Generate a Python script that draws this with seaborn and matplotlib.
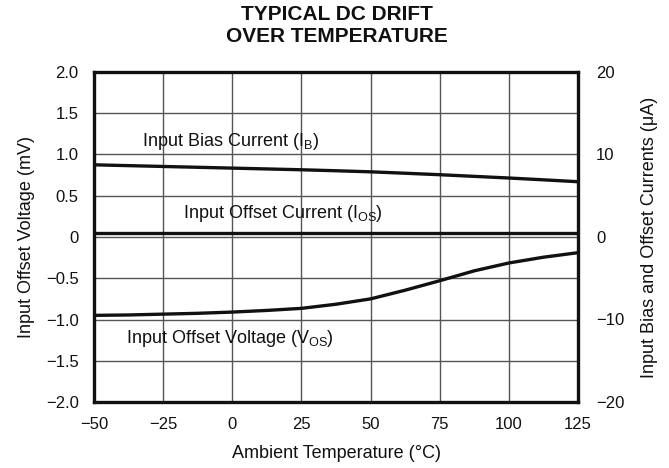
import numpy as np
import pandas as pd
import matplotlib
matplotlib.use("Agg")
import matplotlib.pyplot as plt
import seaborn as sns

temp = [-50, -37.5, -25, -12.5, 0, 12.5, 25, 37.5, 50, 62.5, 75, 87.5, 100, 112.5, 125]
ib_mv = [0.875, 0.865, 0.855, 0.845, 0.835, 0.825, 0.815, 0.803, 0.79, 0.773, 0.755, 0.735, 0.715, 0.693, 0.67]
ios_mv = [0.045] * 15
vos_mv = [-0.95, -0.945, -0.935, -0.925, -0.91, -0.89, -0.865, -0.815, -0.75, -0.645, -0.53, -0.41, -0.315, -0.245, -0.19]

xticks = [-50, -25, 0, 25, 50, 75, 100, 125]
xlabels = ['\u221250', '\u221225', '0', '25', '50', '75', '100', '125']
yticks = [-2.0, -1.5, -1.0, -0.5, 0, 0.5, 1.0, 1.5, 2.0]
ylabels = ['\u22122.0', '\u22121.5', '\u22121.0', '\u22120.5', '0', '0.5', '1.0', '1.5', '2.0']
y2ticks = [-20, -10, 0, 10, 20]
y2labels = ['\u221220', '\u221210', '0', '10', '20']

df = pd.DataFrame({'temp': temp, 'ib': ib_mv, 'ios': ios_mv, 'vos': vos_mv})

sns.set_style("white")
plt.rcParams['font.family'] = ['Liberation Sans', 'DejaVu Sans']
plt.rcParams['mathtext.default'] = 'regular'

fig = plt.figure(figsize=(6.69, 4.68), dpi=100)
ax = fig.add_axes([94/669, 1-402/468, (578-94)/669, (402-72)/468])

for col in ['ib', 'ios', 'vos']:
    sns.lineplot(data=df, x='temp', y=col, ax=ax, color='#111111', lw=2.4)

ax.set_xlim(-50, 125)
ax.set_ylim(-2, 2)
ax.set_xticks(xticks)
ax.set_xticklabels(xlabels)
ax.set_yticks(yticks)
ax.set_yticklabels(ylabels)
ax.grid(True, color='#555555', lw=1.0)
ax.tick_params(axis='x', length=0, labelsize=12, pad=11, colors='#111111')
ax.tick_params(axis='y', length=0, labelsize=12, pad=11, colors='#111111')
for s in ax.spines.values():
    s.set_linewidth(2.4)
    s.set_color('#111111')
ax.set_xlabel('Ambient Temperature (\u00b0C)', fontsize=13, labelpad=9, color='#111111')
ax.set_ylabel('Input Offset Voltage (mV)', fontsize=13, labelpad=8, color='#111111')

ax2 = ax.twinx()
ax2.set_ylim(-20, 20)
ax2.set_yticks(y2ticks)
ax2.set_yticklabels(y2labels)
ax2.tick_params(length=0, labelsize=12, pad=13, colors='#111111')
for s in ax2.spines.values():
    s.set_visible(False)
ax2.set_ylabel('Input Bias and Offset Currents (\u03bcA)', fontsize=13, labelpad=12, color='#111111')

ax.text(-32.6, 1.10, 'Input Bias Current (I$_B$)', fontsize=13, va='baseline', color='#111111')
ax.text(-17.8, 0.23, 'Input Offset Current (I$_{OS}$)', fontsize=13, va='baseline', color='#111111')
ax.text(-38.4, -1.28, 'Input Offset Voltage (V$_{OS}$)', fontsize=13, va='baseline', color='#111111')

fig.text(337/669, 1-26/468, 'TYPICAL DC DRIFT\nOVER TEMPERATURE', ha='center', va='center',
         fontsize=15, fontweight='bold', linespacing=1.2, color='#111111')

fig.savefig('out.png', dpi=100)
